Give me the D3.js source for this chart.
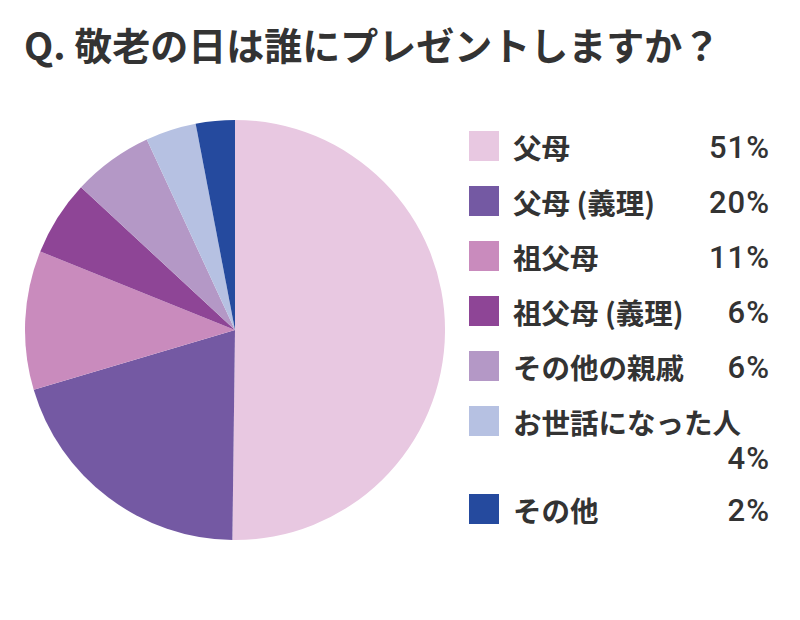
<!DOCTYPE html>
<html>
<head>
<meta charset="utf-8">
<script src="https://cdn.jsdelivr.net/npm/d3@7"></script>
<style>
  html, body { margin: 0; padding: 0; background: #fff; }
  svg text { font-family: "Noto Sans CJK JP", "Noto Sans", sans-serif; fill: #333; }
</style>
</head>
<body>
<div id="chart"></div>
<script>
// categories, drawn shares (as measured from the slices) and printed labels
const categories = ['父母', '父母 (義理)', '祖父母', '祖父母 (義理)', 'その他の親戚', 'お世話になった人', 'その他'];
const shares = [50.2, 20.2, 10.7, 5.8, 6.2, 3.9, 3.0];
const pctLabels = ['51%', '20%', '11%', '6%', '6%', '4%', '2%'];
const colors = ['#e8c8e1', '#7459a3', '#c98bbd', '#8e4596', '#b498c6', '#b6c1e2', '#254a9e'];

const width = 800, height = 620;

const svg = d3.select('#chart')
    .append('svg')
    .attr('width', width)
    .attr('height', height);

// Title
svg.append('text')
    .attr('x', 24)
    .attr('y', 60)
    .style('font-size', '38px')
    .style('font-weight', 700)
    .text('Q. 敬老の日は誰にプレゼントしますか？');

// Pie, starts at 12 o'clock going clockwise
const cx = 235, cy = 330, radius = 210;
const pie = d3.pie().sort(null).value(d => d);
const arc = d3.arc().innerRadius(0).outerRadius(radius);

svg.append('g')
    .attr('transform', `translate(${cx},${cy})`)
    .selectAll('path')
    .data(pie(shares))
    .join('path')
    .attr('d', arc)
    .attr('fill', (d, i) => colors[i]);

// Legend
const rowY = [131, 186, 241, 296, 351, 406, 494]; // row 6 wraps onto two lines
const legend = svg.append('g');

const row = legend.selectAll('g.row')
    .data(categories)
    .join('g')
    .attr('class', 'row')
    .attr('transform', (d, i) => `translate(469,${rowY[i]})`);

row.append('rect')
    .attr('width', 30)
    .attr('height', 30)
    .attr('fill', (d, i) => colors[i]);

row.append('text')
    .attr('x', 44)
    .attr('y', 15)
    .attr('dominant-baseline', 'central')
    .style('font-size', '28.5px')
    .style('font-weight', 700)
    .text(d => d);

row.append('text')
    .attr('x', 301)
    .attr('y', (d, i) => i === 5 ? 52 : 16)
    .attr('text-anchor', 'end')
    .attr('dominant-baseline', 'central')
    .style('font-family', 'Roboto, "Liberation Sans", sans-serif')
    .style('font-size', '31px')
    .style('font-weight', 500)
    .style('letter-spacing', '1px')
    .text((d, i) => pctLabels[i]);
</script>
</body>
</html>
